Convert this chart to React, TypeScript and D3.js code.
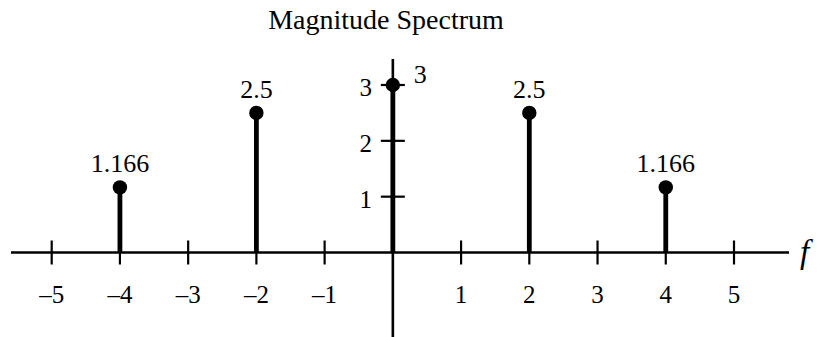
import React from "react";
import * as d3 from "d3";

// Spectral lines: frequency and magnitude
const frequencies = [-4, -2, 0, 2, 4];
const magnitudes = [1.166, 2.5, 3, 2.5, 1.166];
const magnitudeLabels = ["1.166", "2.5", "3", "2.5", "1.166"];

const xTickValues = [-5, -4, -3, -2, -1, 1, 2, 3, 4, 5];
const yTickValues = [1, 2, 3];

const W = 817;
const H = 337;
const txt = { fontFamily: "Liberation Serif" };

export default function App() {
  const x = d3.scaleLinear().domain([-5, 5]).range([51.7, 734]);
  const y = d3.scaleLinear().domain([0, 3]).range([252.5, 85]);
  const x0 = x(0);
  const y0 = y(0);

  const fmtTick = (v: number) => (v < 0 ? "\u2013" + Math.abs(v) : String(v));

  return (
    <svg
      width={W}
      height={H}
      style={{ position: "absolute", left: 0, top: 0, background: "#fff" }}
    >
      <text x={386} y={29} fontSize={28} textAnchor="middle" fill="#000" style={txt}>
        Magnitude Spectrum
      </text>

      {/* horizontal axis */}
      <line x1={11} x2={789} y1={y0} y2={y0} stroke="#000" strokeWidth={2.6} />
      {xTickValues.map((v) => (
        <g key={"xt" + v}>
          <line x1={x(v)} x2={x(v)} y1={y0 - 12} y2={y0 + 12} stroke="#000" strokeWidth={2.2} />
          <text x={x(v)} y={303} fontSize={25} textAnchor="middle" fill="#000" style={txt}>
            {fmtTick(v)}
          </text>
        </g>
      ))}
      <text x={800} y={263} fontSize={33} fontStyle="italic" fill="#000" style={txt}>
        f
      </text>

      {/* vertical axis */}
      <line x1={x0} x2={x0} y1={59} y2={337} stroke="#000" strokeWidth={2.6} />
      {yTickValues.map((v) => (
        <g key={"yt" + v}>
          <line x1={x0 - 12} x2={x0 + 12} y1={y(v)} y2={y(v)} stroke="#000" strokeWidth={2.2} />
          <text x={372} y={y(v) + 11} fontSize={25} textAnchor="end" fill="#000" style={txt}>
            {v}
          </text>
        </g>
      ))}

      {/* stems */}
      {frequencies.map((f, i) => {
        const cx = x(f);
        const cy = y(magnitudes[i]);
        const isCenter = f === 0;
        return (
          <g key={"s" + f}>
            <line x1={cx} x2={cx} y1={y0} y2={cy} stroke="#000" strokeWidth={4.8} />
            <circle cx={cx} cy={cy} r={7.2} fill="#000" />
            {isCenter ? (
              <text x={cx + 21} y={cy - 2} fontSize={26} fill="#000" style={txt}>
                {magnitudeLabels[i]}
              </text>
            ) : (
              <text x={cx} y={cy - 15} fontSize={26} textAnchor="middle" fill="#000" style={txt}>
                {magnitudeLabels[i]}
              </text>
            )}
          </g>
        );
      })}
    </svg>
  );
}
